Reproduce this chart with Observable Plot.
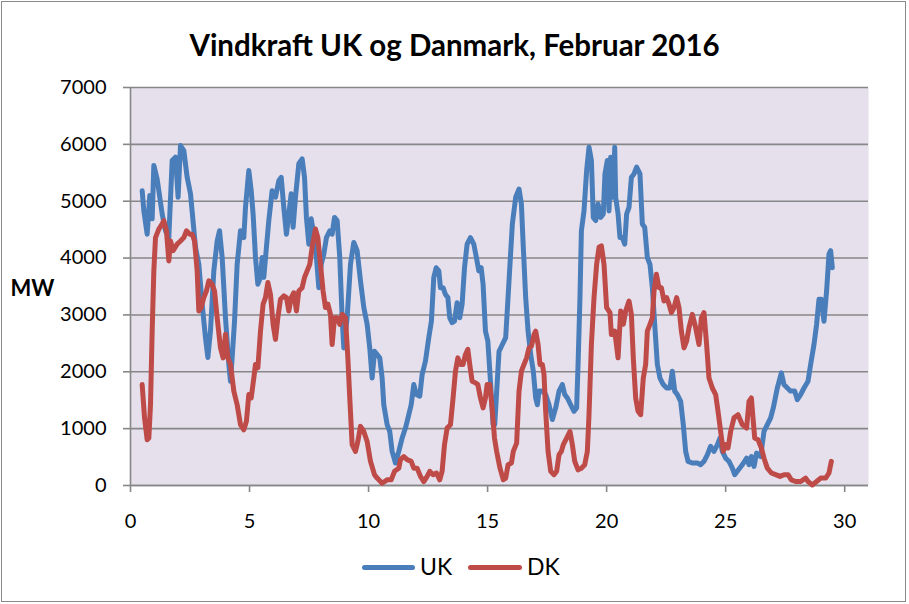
<!DOCTYPE html>
<html>
<head>
<meta charset="utf-8">
<script src="https://cdn.jsdelivr.net/npm/d3@7"></script>
<script src="https://cdn.jsdelivr.net/npm/@observablehq/plot@0.6"></script>
<style>
  html, body { margin: 0; padding: 0; background: #fff; }
  #chart { position: relative; width: 909px; height: 604px; font-family: Lato, "DejaVu Sans", sans-serif; background: #fff; }
  #frame { position: absolute; left: 1px; top: 1px; width: 905px; height: 601px; border: 1px solid #8a8a8a; box-sizing: border-box; pointer-events: none; }
  #title { height: 70px; line-height: 89px; text-align: center; font-weight: bold; font-size: 29.5px; color: #000; }
  #legend { position: relative; height: 64px; font-size: 23px; color: #000; }
  .sw { position: absolute; top: 25px; height: 5px; border-radius: 3px; }
  .lb { position: absolute; top: 13px; line-height: 26px; }
</style>
</head>
<body>
<div id="chart">
  <div id="title">Vindkraft UK og Danmark, Februar 2016</div>
  <div id="plot"></div>
  <div id="legend">
    <span class="sw" style="left:362px;width:53px;background:#4A7EBB"></span><span class="lb" style="left:420px">UK</span>
    <span class="sw" style="left:468px;width:54px;background:#BE4B48"></span><span class="lb" style="left:527px">DK</span>
  </div>
  <div id="frame"></div>
</div>
<script>
// Series names and colours
const seriesNames = ["UK", "DK"];
const seriesColors = ["#4A7EBB", "#BE4B48"];

// X tick values (day of February) and y tick values (MW)
const xTicks = [0, 5, 10, 15, 20, 25, 30];
const yTicks = [0, 1000, 2000, 3000, 4000, 5000, 6000, 7000];

// UK wind power: day, MW
const ukDay = [0.49,0.56,0.70,0.81,0.91,0.98,1.12,1.33,1.47,1.61,1.75,1.89,2.00,2.10,2.24,2.38,2.52,2.73,2.87,3.01,3.15,3.25,3.36,3.50,3.64,3.74,3.85,3.99,4.13,4.20,4.27,4.37,4.48,4.62,4.76,4.83,4.97,5.07,
  5.15,5.25,5.35,5.46,5.53,5.60,5.71,5.81,5.95,6.09,6.23,6.33,6.44,6.55,6.65,6.75,6.83,6.93,7.07,7.21,7.31,7.39,7.49,7.59,7.70,7.81,7.91,8.01,8.12,8.23,8.37,8.47,8.57,8.68,8.79,8.89,8.96,9.10,9.24,9.38,9.52,9.66,9.80,9.94,10.05,10.15,10.25,
  10.47,10.57,10.64,10.78,10.89,10.99,11.13,11.27,11.41,11.55,11.69,11.79,11.90,12.01,12.15,12.25,12.39,12.53,12.64,12.74,12.84,12.95,13.02,13.13,13.23,13.33,13.41,13.51,13.61,13.72,13.83,13.93,14.03,14.14,14.28,14.42,14.53,14.63,14.73,14.81,14.91,15.01,15.12,15.23,
  15.30,15.48,15.62,15.76,15.90,16.04,16.18,16.32,16.42,16.50,16.60,16.70,16.81,16.92,17.02,17.09,17.16,17.30,17.44,17.58,17.72,17.86,18.00,18.14,18.24,18.35,18.49,18.63,18.74,18.80,18.88,18.94,19.05,19.16,19.26,19.36,19.44,19.54,19.64,19.75,19.86,19.93,20.03,20.10,20.17,20.28,20.34,
  20.38,20.48,20.56,20.66,20.76,20.84,20.94,21.04,21.15,21.26,21.40,21.50,21.60,21.71,21.82,21.92,22.02,22.13,22.24,22.38,22.52,22.66,22.76,22.86,22.97,23.11,23.22,23.32,23.42,23.60,23.81,23.95,24.09,24.23,24.37,24.51,24.65,24.76,24.86,25.00,25.14,25.28,25.38,
  25.49,25.70,25.88,25.98,26.08,26.19,26.30,26.47,26.61,26.75,26.89,27.00,27.17,27.34,27.45,27.59,27.73,27.90,28.01,28.15,28.29,28.46,28.57,28.71,28.82,28.92,29.02,29.13,29.24,29.34,29.41,29.48];
const ukMW = [5186,4830,4420,5100,4690,5630,5390,4775,4480,4360,5715,5775,5070,5980,5890,5420,5130,4190,3890,3190,2600,2250,2720,3775,4300,4480,4010,2950,2130,1835,2245,2890,3890,4480,4360,4890,5540,5186,
  4775,4010,3540,3660,4010,3660,4190,4660,5186,5070,5360,5420,4890,4420,4775,5130,4540,5070,5660,5745,5420,4715,4245,4690,4420,4010,3480,3890,4070,4360,4480,4420,4715,4660,4010,2950,2420,2950,3890,4275,4130,3600,3130,2835,2420,1890,2360,
  2245,1890,1420,1070,950,600,395,600,835,1010,1245,1420,1775,1600,1570,1950,2190,2600,2890,3660,3830,3775,3480,3480,3360,3305,2950,2865,2890,3215,2950,3190,3830,4245,4360,4245,4010,3775,3830,3540,2715,2540,1835,1070,
  1070,2360,2480,2600,3600,4600,5070,5215,4950,4190,3305,2715,2305,2010,1540,1420,1660,1660,1600,1420,1160,1365,1660,1775,1600,1540,1420,1305,1365,2130,3305,4480,4830,5540,5950,5715,4715,4660,4950,4715,4775,5480,5715,4830,5775,5070,5950,
  5070,4775,4360,4360,4245,4775,4890,5420,5480,5600,5480,4600,4540,4010,3890,3480,2835,2130,1890,1775,1715,1715,2010,1660,1600,1480,1070,600,425,395,395,365,425,540,690,600,715,835,600,480,425,305,190,
  250,365,480,365,510,335,570,510,950,1070,1190,1365,1715,1980,1775,1715,1660,1660,1510,1600,1715,1835,2130,2480,2835,3275,3275,2890,3420,4070,4130,3830];

// Denmark wind power: day, MW
const dkDay = [0.49,0.59,0.70,0.77,0.84,0.91,0.98,1.05,1.19,1.33,1.40,1.51,1.61,1.68,1.79,1.96,2.10,2.24,2.35,2.49,2.59,2.69,2.80,2.87,2.97,3.08,3.19,3.29,3.43,3.53,3.64,3.78,3.89,3.99,4.09,4.20,4.34,4.48,4.62,4.76,4.87,4.97,5.07,5.18,5.25,
  5.35,5.46,5.57,5.67,5.77,5.88,5.99,6.09,6.19,6.30,6.44,6.55,6.65,6.75,6.86,6.97,7.07,7.21,7.31,7.42,7.53,7.63,7.77,7.87,7.98,8.09,8.19,8.29,8.40,8.47,8.57,8.68,8.79,8.89,9.03,9.13,9.21,9.31,9.45,9.55,9.66,9.80,9.94,10.08,10.25,
  10.36,10.57,10.78,10.95,11.09,11.27,11.34,11.48,11.62,11.79,11.90,12.04,12.18,12.32,12.46,12.57,12.71,12.85,12.99,13.09,13.19,13.30,13.44,13.55,13.65,13.75,13.86,13.97,14.07,14.17,14.25,14.35,14.49,14.59,14.70,14.81,14.91,14.98,15.09,15.19,15.29,
  15.38,15.52,15.66,15.76,15.86,16.00,16.08,16.22,16.32,16.42,16.53,16.64,16.74,16.84,16.95,17.02,17.12,17.20,17.30,17.37,17.44,17.54,17.65,17.79,17.90,18.00,18.10,18.18,18.32,18.46,18.56,18.66,18.80,18.94,19.08,19.19,19.26,19.36,19.47,19.58,19.68,19.78,19.89,20.00,20.14,20.20,
  20.24,20.34,20.48,20.59,20.70,20.80,20.94,21.04,21.12,21.22,21.32,21.43,21.54,21.64,21.71,21.82,21.92,21.99,22.09,22.20,22.30,22.41,22.52,22.62,22.72,22.83,22.94,23.04,23.14,23.25,23.36,23.46,23.60,23.74,23.88,23.98,24.09,24.20,24.30,24.44,24.58,24.68,24.79,24.90,25.00,25.10,25.21,25.35,
  25.52,25.70,25.88,25.98,26.08,26.16,26.22,26.36,26.50,26.61,26.75,26.92,27.10,27.28,27.45,27.62,27.76,27.94,28.15,28.36,28.46,28.64,28.82,28.99,29.20,29.34,29.44];
const dkMW = [1775,1190,805,835,1420,2715,3775,4360,4510,4600,4660,4480,3950,4300,4130,4245,4300,4360,4480,4420,4420,4300,3775,3070,3130,3305,3420,3600,3540,3420,2950,2420,2245,2660,2245,2130,1660,1420,1070,980,1130,1600,1540,1890,2130,
  2070,2715,3190,3305,3570,3360,2835,2570,2950,3275,3335,3305,3070,3305,3390,3070,3420,3480,3660,3775,3890,4190,4510,4360,3890,3420,3130,3190,3010,2480,2950,2950,2835,3010,2950,2245,1540,720,600,775,1040,950,775,425,190,
  130,40,100,100,250,305,455,510,455,425,305,305,160,70,160,250,190,220,100,250,720,1010,1070,1540,2010,2245,2130,2130,2305,2395,2130,1835,1805,1775,1540,1365,1540,1775,1775,1365,835,
  600,305,100,130,365,395,600,745,1660,2010,2130,2245,2420,2450,2655,2715,2480,2130,2130,1950,1305,600,250,190,250,540,600,720,835,950,720,425,275,305,365,600,1245,2480,3305,3890,4190,4215,3890,3130,3040,2655,
  2655,2715,2245,3070,2835,3070,3245,3010,2245,1540,1305,1245,1890,2130,2715,2835,2950,3420,3715,3480,3480,3245,3305,3190,3040,3130,3305,3130,2715,2420,2540,2775,3010,2775,2480,2950,3040,2480,1890,1715,1600,1305,950,600,720,660,950,1190,
  1245,1070,1010,1480,1540,1130,835,805,660,480,305,220,190,160,190,190,100,70,70,130,70,10,70,130,130,220,425];

const rows = [
  ...ukDay.map((d, i) => ({series: seriesNames[0], day: d, mw: ukMW[i]})),
  ...dkDay.map((d, i) => ({series: seriesNames[1], day: d, mw: dkMW[i]}))
];

const grid = "#878787";

const chart = Plot.plot({
  width: 909,
  height: 470,
  marginLeft: 130,
  marginRight: 41,
  marginTop: 17,
  marginBottom: 55,
  style: {fontFamily: "Lato, 'DejaVu Sans', sans-serif", fontSize: "20px", color: "#000", background: "transparent", overflow: "visible"},
  x: {domain: [0, 31]},
  y: {domain: [0, 7000]},
  color: {domain: seriesNames, range: seriesColors},
  marks: [
    Plot.frame({fill: "#E5E0EC", stroke: null}),
    Plot.gridY(yTicks, {stroke: grid, strokeOpacity: 1, strokeWidth: 1.6}),
    Plot.ruleX([0], {stroke: grid, strokeWidth: 1.6}),
    Plot.ruleY([0], {stroke: grid, strokeWidth: 1.6}),
    Plot.axisX(xTicks, {tickSize: 7, tickPadding: 21, stroke: grid, strokeWidth: 1.6, fill: "#000", label: null, tickFormat: d => String(d)}),
    Plot.axisY(yTicks, {tickSize: 7, tickPadding: 17, stroke: grid, strokeWidth: 1.6, fill: "#000", label: null, tickFormat: d => String(d)}),
    Plot.line(rows, {x: "day", y: "mw", z: "series", stroke: "series", strokeWidth: 5, strokeLinejoin: "round", strokeLinecap: "round"}),
    Plot.text(["MW"], {frameAnchor: "left", dx: -120, dy: 2, textAnchor: "start", fontWeight: "bold", fontSize: 22})
  ]
});
document.getElementById("plot").appendChild(chart);
</script>
</body>
</html>
